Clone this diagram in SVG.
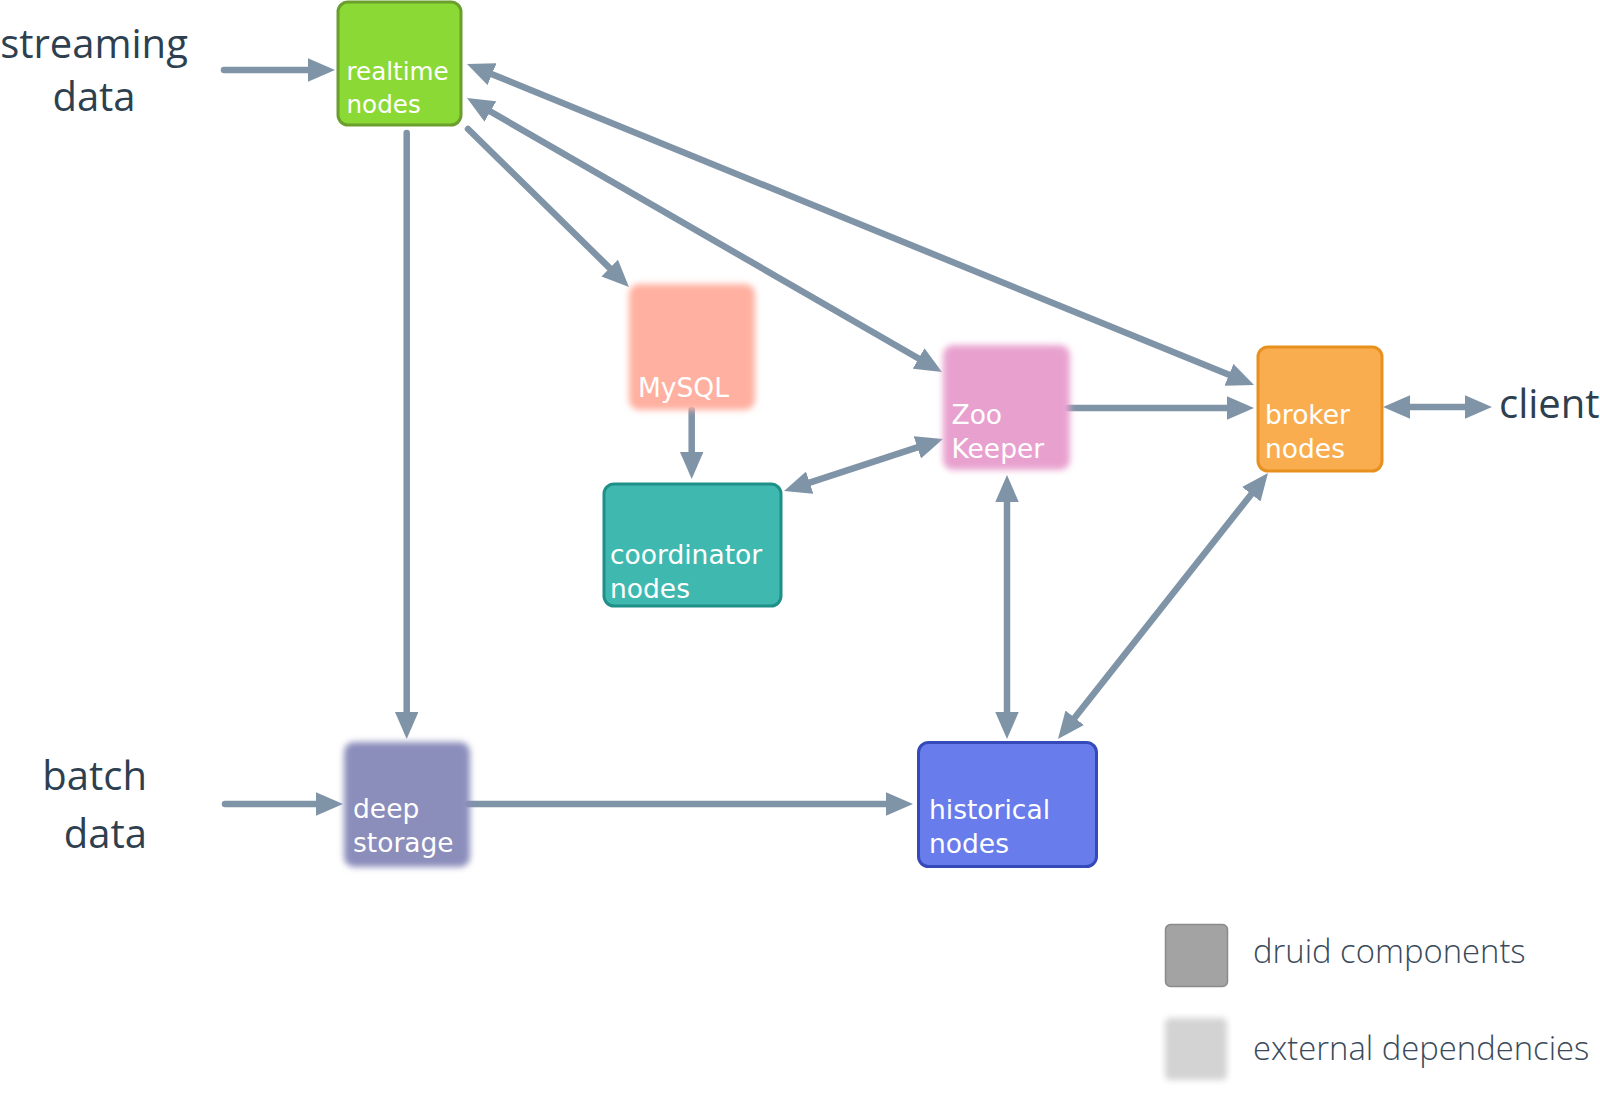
<svg xmlns="http://www.w3.org/2000/svg" width="1600" height="1094" viewBox="0 0 1600 1094">
<style>
.bg{fill:#ffffff}
.lbl{font-family:"DejaVu Sans",sans-serif;font-size:26.5px;fill:#ffffff}
.lbls{font-family:"DejaVu Sans",sans-serif;font-size:24.6px;fill:#ffffff}
.big{font-family:"Open Sans",sans-serif;font-size:40px;fill:#2e3f50}
.leg{font-family:"Open Sans",sans-serif;font-weight:300;font-size:32.8px;fill:#3a4a5a}
.conn path{fill:none;stroke:#8094a8;stroke-width:6.5;stroke-linecap:round}
.ah{fill:#8094a8}
</style>
<defs>
<marker id="arr" markerUnits="userSpaceOnUse" markerWidth="28" markerHeight="24" refX="0" refY="11.75" orient="auto-start-reverse" viewBox="0 0 28 24">
<path class="ah" d="M0,0 L27,11.75 L0,23.5 z"/>
</marker>
<filter id="blur" x="-20%" y="-20%" width="140%" height="140%">
<feGaussianBlur stdDeviation="3"/>
</filter>
</defs>
<rect class="bg" x="0" y="0" width="1600" height="1094"/>

<g id="labels">
<text class="big" x="94" y="58" text-anchor="middle">streaming</text>
<text class="big" x="94" y="111" text-anchor="middle">data</text>
<text class="big" x="147" y="790" text-anchor="end">batch</text>
<text class="big" x="147" y="848" text-anchor="end">data</text>
<text class="big" x="1499" y="418">client</text>
</g>

<g class="conn" id="connectors">
<path d="M224,70 L308,70" marker-end="url(#arr)"/>
<path d="M406.7,133 L406.7,712" marker-end="url(#arr)"/>
<path d="M468,129 L609.7,268.1" marker-end="url(#arr)"/>
<path d="M490.4,111.5 L918.6,358.5" marker-start="url(#arr)" marker-end="url(#arr)"/>
<path d="M492,74.2 L1229,374.8" marker-start="url(#arr)" marker-end="url(#arr)"/>
<path d="M691.7,410 L691.7,452" marker-end="url(#arr)"/>
<path d="M809.7,482.6 L917.3,447.4" marker-start="url(#arr)" marker-end="url(#arr)"/>
<path d="M1068,408 L1227,408" marker-end="url(#arr)"/>
<path d="M1410,407 L1465,407" marker-start="url(#arr)" marker-end="url(#arr)"/>
<path d="M1007,502 L1007,712" marker-start="url(#arr)" marker-end="url(#arr)"/>
<path d="M1251.3,494.2 L1074.7,717.8" marker-start="url(#arr)" marker-end="url(#arr)"/>
<path d="M225,804 L316,804" marker-end="url(#arr)"/>
<path d="M468,804 L886,804" marker-end="url(#arr)"/>
</g>

<g id="realtime">
<rect x="338" y="2" width="123" height="123" rx="10" fill="#8bd934" stroke="#6a9e2d" stroke-width="3"/>
<text class="lbls" x="346.5" y="80">realtime</text>
<text class="lbls" x="346.5" y="113">nodes</text>
</g>

<g id="mysql">
<rect x="629" y="284" width="126" height="126" rx="10" fill="#ffb0a0" filter="url(#blur)"/>
<text class="lbl" x="638" y="396.5">MySQL</text>
</g>

<g id="zookeeper">
<rect x="943" y="345" width="127" height="125" rx="10" fill="#e8a1cf" filter="url(#blur)"/>
<text class="lbl" x="951.5" y="423.5">Zoo</text>
<text class="lbl" x="951.5" y="458">Keeper</text>
</g>

<g id="broker">
<rect x="1258" y="347" width="124" height="124" rx="10" fill="#f9ad4e" stroke="#e8901e" stroke-width="3"/>
<text class="lbl" x="1265" y="424">broker</text>
<text class="lbl" x="1265" y="458">nodes</text>
</g>

<g id="coordinator">
<rect x="604" y="484" width="177" height="122" rx="10" fill="#3fb9b0" stroke="#1f9088" stroke-width="3"/>
<text class="lbl" x="610" y="564">coordinator</text>
<text class="lbl" x="610" y="598">nodes</text>
</g>

<g id="deepstorage">
<rect x="344" y="742" width="126" height="125" rx="10" fill="#8b8dbb" filter="url(#blur)"/>
<text class="lbl" x="353" y="818">deep</text>
<text class="lbl" x="353" y="852">storage</text>
</g>

<g id="historical">
<rect x="918.5" y="742.5" width="178" height="124" rx="10" fill="#687deb" stroke="#3549b8" stroke-width="3"/>
<text class="lbl" x="929" y="819">historical</text>
<text class="lbl" x="929" y="853">nodes</text>
</g>

<g id="legend">
<rect x="1165.5" y="924.5" width="62" height="62" rx="5" fill="#a3a3a3" stroke="#8a8a8a" stroke-width="1.5"/>
<text class="leg" x="1253" y="963">druid components</text>
<rect x="1165" y="1018" width="62" height="62" rx="5" fill="#d3d3d3" filter="url(#blur)"/>
<text class="leg" x="1253" y="1060">external dependencies</text>
</g>
</svg>
